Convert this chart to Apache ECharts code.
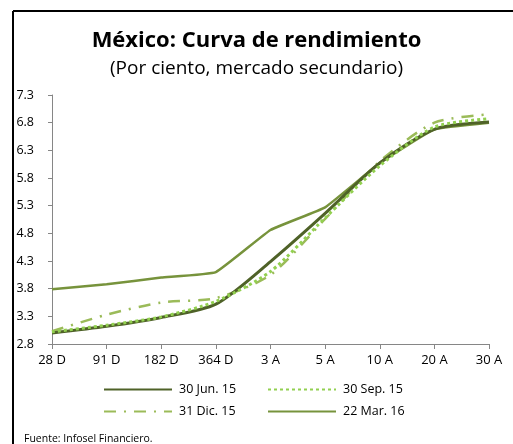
<!DOCTYPE html>
<html>
<head>
<meta charset="utf-8">
<script src="https://cdn.jsdelivr.net/npm/echarts@6/dist/echarts.min.js"></script>
<style>
html,body{margin:0;padding:0;background:#fff;}
#chart{width:513px;height:444px;}
</style>
</head>
<body>
<div id="chart"></div>
<script>
const categories = ['28 D','91 D','182 D','364 D','3 A','5 A','10 A','20 A','30 A'];
const seriesNames = ['30 Jun. 15','30 Sep. 15','31 Dic. 15','22 Mar. 16'];
const jun15 = [3.00, 3.12, 3.28, 3.52, 4.29, 5.16, 6.07, 6.68, 6.81];
const sep15 = [3.02, 3.14, 3.29, 3.57, 4.11, 5.08, 6.02, 6.72, 6.87];
const dic15 = [3.03, 3.33, 3.55, 3.63, 4.05, 5.06, 6.10, 6.80, 6.95];
const mar16 = [3.79, 3.88, 4.00, 4.10, 4.86, 5.27, 6.07, 6.68, 6.80];
const yTicks = { min: 2.8, max: 7.3, interval: 0.5 };

const FONT = 'Open Sans';
const chart = echarts.init(document.getElementById('chart'));

function mkLegend(name, left, top) {
  return {
    data: [name], left: left, top: top, orient: 'horizontal',
    itemWidth: 68, itemHeight: 10, itemGap: 0,
    itemStyle: { opacity: 0 },
    textStyle: { fontFamily: FONT, fontSize: 12.5, color: '#000', padding: [0,0,0,2] },
    padding: 0
  };
}

chart.setOption({
  animation: false,
  title: [
    { text: 'México: Curva de rendimiento', left: 'center', top: 25,
      textStyle: { fontFamily: FONT, fontSize: 22, fontWeight: 'bold', color: '#000' } },
    { text: '(Por ciento, mercado secundario)', left: 'center', top: 54,
      textStyle: { fontFamily: FONT, fontSize: 19, fontWeight: 'normal', color: '#000' } },
    { text: 'Fuente: Infosel Financiero.', left: 19, top: 429,
      textStyle: { fontFamily: FONT, fontSize: 10.5, fontWeight: 'normal', color: '#000' } }
  ],
  graphic: [
    { type: 'line', shape: { x1: 13, y1: 11, x2: 513, y2: 11 }, style: { stroke: '#000', lineWidth: 2 } },
    { type: 'line', shape: { x1: 13, y1: 11, x2: 13, y2: 444 }, style: { stroke: '#000', lineWidth: 2 } }
  ],
  legend: [
    mkLegend(seriesNames[0], 103, 383),
    mkLegend(seriesNames[1], 267, 383),
    mkLegend(seriesNames[2], 103, 405),
    mkLegend(seriesNames[3], 267, 405)
  ],
  grid: { left: 52, right: 24, top: 95, bottom: 100, containLabel: false },
  xAxis: {
    type: 'category', data: categories, boundaryGap: false,
    axisLine: { lineStyle: { color: '#868686', width: 1 } },
    axisTick: { show: true, length: 5, lineStyle: { color: '#868686' }, alignWithLabel: true },
    axisLabel: { fontFamily: FONT, fontSize: 13, color: '#000', margin: 10, interval: 0 },
    splitLine: { show: false }
  },
  yAxis: {
    type: 'value', min: yTicks.min, max: yTicks.max, interval: yTicks.interval,
    axisLine: { show: true, lineStyle: { color: '#868686', width: 1 } },
    axisTick: { show: true, length: 4, lineStyle: { color: '#868686' } },
    axisLabel: { fontFamily: FONT, fontSize: 12.5, color: '#000', margin: 18,
      formatter: v => v.toFixed(1) },
    splitLine: { show: false }
  },
  series: [
    { name: seriesNames[0], type: 'line', data: jun15, symbol: 'none', smooth: 0.25, z: 4,
      lineStyle: { color: '#4F6228', width: 3 }, itemStyle: { color: '#4F6228' } },
    { name: seriesNames[1], type: 'line', data: sep15, symbol: 'none', smooth: 0.25, z: 5,
      lineStyle: { color: '#92D050', width: 3, type: [3, 3] }, itemStyle: { color: '#92D050' } },
    { name: seriesNames[2], type: 'line', data: dic15, symbol: 'none', smooth: 0.25, z: 3,
      lineStyle: { color: '#9BBB59', width: 2.5, type: [12, 8, 2, 8] }, itemStyle: { color: '#9BBB59' } },
    { name: seriesNames[3], type: 'line', data: mar16, symbol: 'none', smooth: 0.1, z: 2,
      lineStyle: { color: '#77933C', width: 2.5 }, itemStyle: { color: '#77933C' } }
  ]
});
</script>
</body>
</html>
